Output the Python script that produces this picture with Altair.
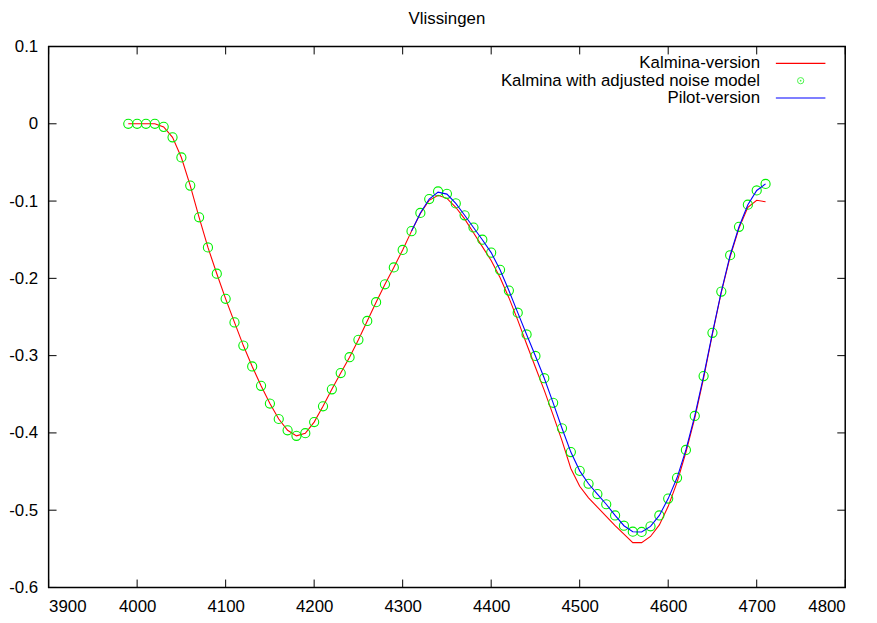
import altair as alt
import pandas as pd

chart_title = "Vlissingen"
legend_labels = ["Kalmina-version", "Kalmina with adjusted noise model", "Pilot-version"]
x_ticks = [3900, 4000, 4100, 4200, 4300, 4400, 4500, 4600, 4700, 4800]
y_ticks = [-0.6, -0.5, -0.4, -0.3, -0.2, -0.1, 0.0, 0.1]

# Kalmina with adjusted noise model (green circles)
green_x = [3990, 4000, 4010, 4020, 4030, 4040, 4050, 4060, 4070, 4080,
           4090, 4100, 4110, 4120, 4130, 4140, 4150, 4160, 4170, 4180,
           4190, 4200, 4210, 4220, 4230, 4240, 4250, 4260, 4270, 4280,
           4290, 4300, 4310, 4320, 4330, 4340, 4350, 4360, 4370, 4380,
           4390, 4400, 4410, 4420, 4430, 4440, 4450, 4460, 4470, 4480,
           4490, 4500, 4510, 4520, 4530, 4540, 4550, 4560, 4570, 4580,
           4590, 4600, 4610, 4620, 4630, 4640, 4650, 4660, 4670, 4680,
           4690, 4700, 4710]
green_y = [0.0, 0.0, 0.0, 0.0, -0.004, -0.0175, -0.0436, -0.080, -0.121, -0.160,
           -0.194, -0.2265, -0.257, -0.287, -0.314, -0.339, -0.362, -0.382, -0.3966, -0.4038,
           -0.4004, -0.386, -0.3656, -0.3436, -0.3225, -0.302, -0.2795, -0.2551, -0.2308, -0.2077,
           -0.1859, -0.1632, -0.1389, -0.1154, -0.0974, -0.0876, -0.0906, -0.103, -0.1184, -0.1342,
           -0.150, -0.1667, -0.1889, -0.2158, -0.2444, -0.2726, -0.3004, -0.3292, -0.3611, -0.394,
           -0.4248, -0.4491, -0.4658, -0.4791, -0.4923, -0.5068, -0.5201, -0.5278, -0.5282, -0.5209,
           -0.5068, -0.485, -0.4581, -0.422, -0.378, -0.3265, -0.2705, -0.2171, -0.1701, -0.1333,
           -0.1047, -0.0863, -0.0778]

# Kalmina-version (red line)
red_x = list(green_x)
red_y = [0.0, 0.0, 0.0, 0.0, -0.004, -0.0175, -0.0436, -0.080, -0.121, -0.160,
         -0.194, -0.2265, -0.257, -0.287, -0.314, -0.339, -0.362, -0.382, -0.3966, -0.4038,
         -0.4004, -0.386, -0.3656, -0.3436, -0.3225, -0.302, -0.2795, -0.2551, -0.2308, -0.2077,
         -0.1859, -0.1632, -0.1389, -0.1160, -0.0990, -0.0925, -0.0965, -0.108, -0.123, -0.141,
         -0.159, -0.177, -0.199, -0.225, -0.254, -0.285, -0.315, -0.345, -0.377, -0.410,
         -0.446, -0.469, -0.484, -0.496, -0.508, -0.520, -0.531, -0.542, -0.542, -0.534,
         -0.519, -0.495, -0.464, -0.425, -0.381, -0.329, -0.272, -0.218, -0.172, -0.135,
         -0.108, -0.099, -0.101]

# Pilot-version (blue line)
blue_x = [4310, 4320, 4330, 4340, 4350, 4360, 4370, 4380, 4390, 4400,
          4410, 4420, 4430, 4440, 4450, 4460, 4470, 4480, 4490, 4500,
          4510, 4520, 4530, 4540, 4550, 4560, 4570, 4580, 4590, 4600,
          4610, 4620, 4630, 4640, 4650, 4660, 4670, 4680, 4690, 4700, 4710]
blue_y = [-0.1389, -0.1154, -0.0974, -0.0885, -0.0910, -0.103, -0.1184, -0.1342, -0.150, -0.1667,
          -0.1889, -0.2158, -0.2444, -0.2726, -0.3004, -0.3292, -0.3611, -0.394, -0.4248, -0.4491,
          -0.4658, -0.4791, -0.4923, -0.5068, -0.5201, -0.5278, -0.5282, -0.5209, -0.5068, -0.485,
          -0.4581, -0.422, -0.378, -0.3265, -0.2705, -0.2171, -0.1701, -0.1333, -0.1047, -0.0863, -0.0778]

W, H = 804, 546
FONT = "Liberation Sans"
FS = 17

xscale = alt.Scale(domain=[3900, 4800], nice=False, zero=False)
yscale = alt.Scale(domain=[-0.6, 0.1], nice=False, zero=False)
xaxis = alt.Axis(values=x_ticks, format="d", title=None, labelPadding=11, tickSize=0)
yaxis = alt.Axis(values=y_ticks, title=None, labelPadding=11, tickSize=0,
                 labelExpr="datum.value == 0 ? '0' : toString(round(datum.value * 10) / 10)")


def X(field):
    return alt.X(field, type="quantitative", scale=xscale, axis=xaxis)


def Y(field):
    return alt.Y(field, type="quantitative", scale=yscale, axis=yaxis)


red_df = pd.DataFrame({"x": red_x, "y": red_y})
green_df = pd.DataFrame({"x": green_x, "y": green_y})
blue_df = pd.DataFrame({"x": blue_x, "y": blue_y})

red = alt.Chart(red_df).mark_line(color="#ff0000", strokeWidth=1.1).encode(
    x=X("x"), y=Y("y"), order="x:Q")
green = alt.Chart(green_df).mark_point(shape="circle", filled=False, color="#00f000",
                                        size=85, strokeWidth=1.1, opacity=1).encode(x=X("x"), y=Y("y"))
blue = alt.Chart(blue_df).mark_line(color="#0000ff", strokeWidth=1.1).encode(
    x=X("x"), y=Y("y"), order="x:Q")

xt_df = pd.DataFrame({"t": x_ticks})
yt_df = pd.DataFrame({"t": y_ticks})
tick_len = 8
xt_bottom = alt.Chart(xt_df).mark_rule(color="black", strokeWidth=1).encode(
    x=X("t"), y=alt.value(H), y2=alt.value(H - tick_len))
xt_top = alt.Chart(xt_df).mark_rule(color="black", strokeWidth=1).encode(
    x=X("t"), y=alt.value(0), y2=alt.value(tick_len))
yt_left = alt.Chart(yt_df).mark_rule(color="black", strokeWidth=1).encode(
    y=Y("t"), x=alt.value(0), x2=alt.value(tick_len))
yt_right = alt.Chart(yt_df).mark_rule(color="black", strokeWidth=1).encode(
    y=Y("t"), x=alt.value(W), x2=alt.value(W - tick_len))

# title as a text layer above the plot box
title_layer = alt.Chart(pd.DataFrame({"t": [chart_title]})).mark_text(
    align="center", baseline="alphabetic", font=FONT, fontSize=FS, color="black").encode(
    text="t:N", x=alt.value(W / 2), y=alt.value(-23))

# key (text right-aligned, samples to the right, as in the original)
key_text_x = 718
key_s0, key_s1 = 734, 784
key_rows = [17, 34.5, 52]
key_layers = []
for lab, yy in zip(legend_labels, key_rows):
    key_layers.append(
        alt.Chart(pd.DataFrame({"label": [lab]})).mark_text(
            align="right", baseline="middle", font=FONT, fontSize=FS, color="black").encode(
            text="label:N", x=alt.value(key_text_x), y=alt.value(yy)))
key_layers.append(alt.Chart(pd.DataFrame({"k": [legend_labels[0]]})).mark_rule(
    color="#ff0000", strokeWidth=1.1).encode(x=alt.value(key_s0), x2=alt.value(key_s1), y=alt.value(key_rows[0])))
key_layers.append(alt.Chart(pd.DataFrame({"k": [legend_labels[1]]})).mark_point(
    shape="circle", filled=False, color="#00f000", size=40, strokeWidth=1).encode(
    x=alt.value((key_s0 + key_s1) / 2), y=alt.value(key_rows[1])))
key_layers.append(alt.Chart(pd.DataFrame({"k": [legend_labels[1]]})).mark_point(
    shape="circle", filled=True, color="#00f000", size=3).encode(
    x=alt.value((key_s0 + key_s1) / 2), y=alt.value(key_rows[1])))
key_layers.append(alt.Chart(pd.DataFrame({"k": [legend_labels[2]]})).mark_rule(
    color="#0000ff", strokeWidth=1.1).encode(x=alt.value(key_s0), x2=alt.value(key_s1), y=alt.value(key_rows[2])))

chart = alt.layer(
    xt_bottom, xt_top, yt_left, yt_right, red, green, blue, title_layer, *key_layers
).properties(
    width=W, height=H,
    autosize=alt.AutoSizeParams(type="none"),
    padding={"left": 41, "top": 36, "right": 24, "bottom": 33},
).configure_view(
    stroke="black", strokeWidth=1.5
).configure_axis(
    grid=False, domain=False, ticks=False, labelFont=FONT, labelFontSize=FS,
    labelColor="black"
)

chart.save("out.html", embed_options={"renderer": "svg", "actions": False})
